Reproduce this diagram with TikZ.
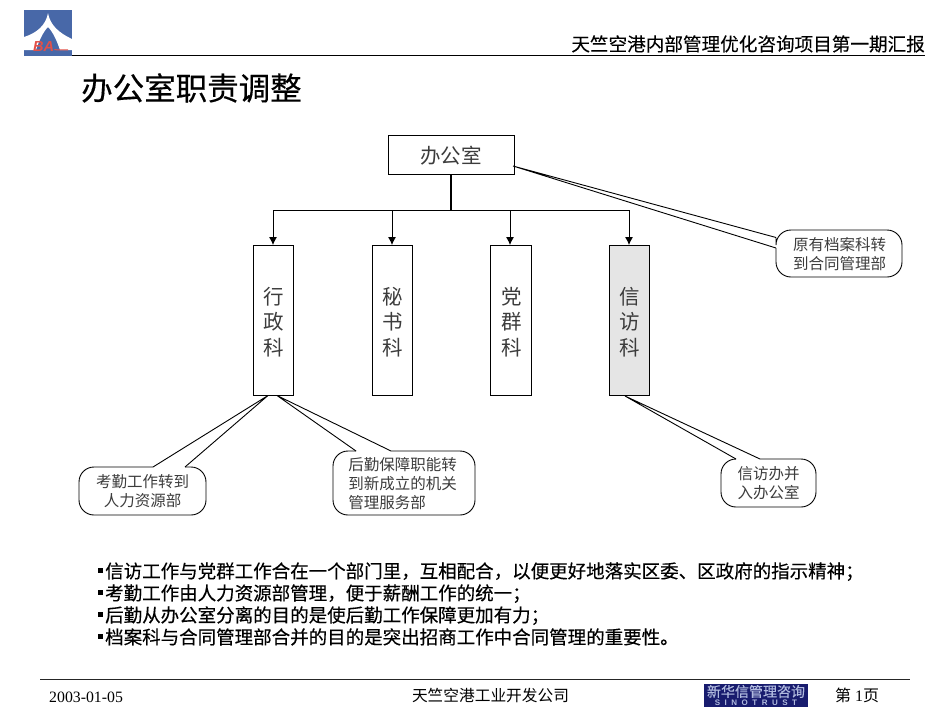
\documentclass[tikz,border=0pt]{standalone}
\usepackage{fontspec}
\setmainfont{Liberation Serif}
\newfontfamily\cjk{Noto Sans CJK SC}
\newfontfamily\cjkbold{Noto Sans CJK SC}[FakeBold=0.35]
\newfontfamily\cjksemi{Noto Sans CJK SC}[FakeBold=0.18]
\newfontfamily\sans{Liberation Sans}
\usetikzlibrary{arrows.meta}
\definecolor{logoblue}{RGB}{72,104,168}
\definecolor{logored}{RGB}{226,80,72}
\definecolor{navy}{RGB}{24,28,110}
\definecolor{lightnavy}{RGB}{176,186,222}
\definecolor{greyfill}{RGB}{229,229,229}
\definecolor{calltext}{RGB}{60,60,60}
\tikzset{
  x=1pt,y=-1pt,
  orgbox/.style={draw=black,line width=.8pt,inner sep=0pt,outer sep=0pt,anchor=north west,align=center},
  vertbox/.style={orgbox,minimum width=40pt,minimum height=150.5pt,text height=0pt},
  vertlabel/.style={font=\cjk\fontsize{20.5}{25.6}\selectfont,align=center,text=calltext},
  callbody/.style={draw=black,line width=.9pt,rounded corners=15pt},
  calltail/.style={draw=black,line width=.9pt,line join=bevel},
  calllabel/.style={font=\cjk\fontsize{15.5}{19}\selectfont,align=center,text=calltext,inner sep=0pt},
  linktip/.style={-{Latex[length=8pt,width=8pt]},line width=.8pt},
  bulletline/.style={anchor=base west,inner sep=0pt,font=\cjkbold\fontsize{18.5}{20}\selectfont},
  footertext/.style={anchor=base,inner sep=0pt},
  rulegrey/.style={line width=.9pt,draw=black!85}
}
\begin{document}
\begin{tikzpicture}
\useasboundingbox (0,0) rectangle (950,713);
% header logo
\fill[logoblue] (24,10) rectangle (72,56);
\fill[white] (48,13) .. controls (46,25) and (37,33) .. (24,37) -- (24,50) -- (36,50) .. controls (39,41) and (43,32) .. (48,27) .. controls (53,32) and (57,41) .. (60,50) -- (72,50) -- (72,39) .. controls (59,33) and (50,25) .. (48,13) -- cycle;
\node[anchor=base west,inner sep=0pt,text=logored,font=\sans\bfseries\itshape\fontsize{14.5}{14.5}\selectfont] (logotext) at (33,51) {BA};
\coordinate (logoend) at (68,50);
\draw[logored,line width=1pt] (logotext.south east) ++(0,-1.5) -- (logoend);
% header
\coordinate (topl) at (72,55.5);
\coordinate (topr) at (925,55.5);
\draw[line width=.9pt] (topl) -- (topr);
\node[anchor=base east,inner sep=0pt,font=\cjksemi\fontsize{18.6}{20}\selectfont] (head) at (925,51) {天竺空港内部管理优化咨询项目第一期汇报};
\node[anchor=base west,inner sep=0pt,font=\cjkbold\fontsize{31.5}{34}\selectfont] (title) at (81,100) {办公室职责调整};
% org chart
\node[orgbox,minimum width=126pt,minimum height=39pt,font=\cjk\fontsize{20.5}{24}\selectfont,text=calltext,text depth=0pt] (office) at (388,135) {\raisebox{-1.5pt}{办公室}};
\node[vertbox] (xz) at (253,245) {};
\node[vertbox] (ms) at (372,245) {};
\node[vertbox,minimum width=41pt] (dq) at (490,245) {};
\node[vertbox,fill=greyfill] (xf) at (609,245) {};
\node[vertlabel] (xzt) at (274,322) {行\\政\\科};
\node[vertlabel] (mst) at (392.5,322) {秘\\书\\科};
\node[vertlabel] (dqt) at (511.5,322) {党\\群\\科};
\node[vertlabel] (xft) at (629.5,322) {信\\访\\科};
\coordinate (bus) at (451,210);
\draw[line width=1.4pt] (office.south) -- (bus);
\draw[linktip] (bus) -| (xz.north);
\draw[linktip] (bus) -| (ms.north);
\draw[linktip] (bus) -| ([xshift=-.5pt]dq.north);
\draw[linktip] (bus) -| (xf.north);
% callouts
\coordinate (tipa) at (268,395.5);
\coordinate (tipb) at (277,395.5);
\coordinate (tipc) at (625,396);
\coordinate (tipd) at (513,166);
\draw[callbody] (185,467) -- (206,467) -- (206,515) -- (79,515) -- (79,467) -- (153,467);
\draw[calltail] (153,467) -- (tipa) -- (185,467);
\draw[callbody] (391,451) -- (475,451) -- (475,515) -- (333,515) -- (333,451) -- (356,451);
\draw[calltail] (356,451) -- (tipb) -- (391,451);
\draw[callbody] (760,459) -- (816,459) -- (816,507) -- (721,507) -- (721,459) -- (736,459);
\draw[calltail] (736,459) -- (tipc) -- (760,459);
\draw[callbody] (776,237.5) -- (776,230) -- (902,230) -- (902,277) -- (776,277) -- (776,248);
\draw[calltail] (776,237.5) -- (tipd) -- (776,248);
\node[calllabel] (ca) at (142.5,491.5) {考勤工作转到\\人力资源部};
\node[calllabel,align=left] (cb) at (402.5,483.5) {后勤保障职能转\\到新成立的机关\\管理服务部};
\node[calllabel] (cc) at (768.5,483.5) {信访办并\\入办公室};
\node[calllabel] (cd) at (839.5,254) {原有档案科转\\到合同管理部};
% bullets
\node[bulletline] (b1) at (105,578) {信访工作与党群工作合在一个部门里，互相配合，以便更好地落实区委、区政府的指示精神；};
\node[bulletline] (b2) at (105,600) {考勤工作由人力资源部管理，便于薪酬工作的统一；};
\node[bulletline] (b3) at (105,622) {后勤从办公室分离的目的是使后勤工作保障更加有力；};
\node[bulletline] (b4) at (105,644) {档案科与合同管理部合并的目的是突出招商工作中合同管理的重要性。};
\foreach \yy in {570.5,592.5,614.5,636.5}{\fill (98,\yy-2.5) rectangle (103,\yy+2.5);}
% footer
\coordinate (botl) at (40,679.5);
\coordinate (botr) at (910,679.5);
\draw[rulegrey] (botl) -- (botr);
\node[footertext,anchor=base west,font=\fontsize{15.8}{18}\selectfont] (date) at (49,702) {2003-01-05};
\node[footertext,font=\cjk\fontsize{15.7}{18}\selectfont] (company) at (490.5,701.5) {天竺空港工业开发公司};
\fill[navy] (704,684) rectangle (808,707);
\node[inner sep=0pt,text=lightnavy,font=\cjkbold\fontsize{14}{15}\selectfont] (logocn) at (756,691.5) {新华信管理咨询};
\node[inner sep=0pt,text=lightnavy,font=\sans\bfseries\fontsize{8}{8}\selectfont] (logoen) at (756,702.5) {S\hspace{4.5pt}I\hspace{4.5pt}N\hspace{4.5pt}O\hspace{4.5pt}T\hspace{4.5pt}R\hspace{4.5pt}U\hspace{4.5pt}S\hspace{4.5pt}T};
\node[footertext,anchor=base west,font=\fontsize{16}{18}\selectfont] (page) at (835,701.5) {{\cjk 第} 1{\cjk 页}};
\end{tikzpicture}
\end{document}
